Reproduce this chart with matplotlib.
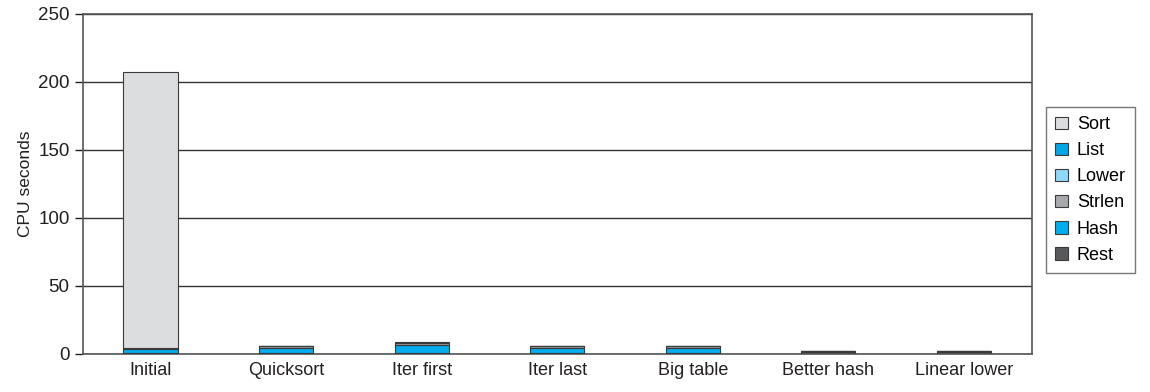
import numpy as np
import matplotlib
matplotlib.use("Agg")
import matplotlib.pyplot as plt

plt.rcParams['font.family'] = ['Liberation Sans', 'DejaVu Sans']

categories = ['Initial', 'Quicksort', 'Iter first', 'Iter last',
              'Big table', 'Better hash', 'Linear lower']

# stacked bottom -> top
rest = [0.6, 0.5, 0.5, 0.5, 0.5, 1.3, 1.2]
hash_ = [3.4, 3.7, 6.1, 3.7, 3.7, 0.0, 0.0]
strlen = [0.3, 1.4, 1.2, 1.4, 1.4, 0.9, 0.9]
lower = [0.1, 0.1, 0.1, 0.1, 0.1, 0.0, 0.0]
list_ = [0.1, 0.0, 0.0, 0.0, 0.0, 0.0, 0.0]
sort = [203.0, 0.4, 0.6, 0.4, 0.4, 0.0, 0.0]

series = [
    ('Rest', rest, '#58595b'),
    ('Hash', hash_, '#00aeef'),
    ('Strlen', strlen, '#a7a9ac'),
    ('Lower', lower, '#8ed8f8'),
    ('List', list_, '#00a6e6'),
    ('Sort', sort, '#dcddde'),
]

fig, ax = plt.subplots(figsize=(11.5, 3.92), dpi=100)
fig.subplots_adjust(left=0.072, right=0.897, top=0.965, bottom=0.097)

x = np.arange(len(categories))
bottom = np.zeros(len(categories))
handles = {}
for name, vals, color in series:
    vals = np.array(vals)
    h = ax.bar(x, vals, width=0.4, bottom=bottom, color=color,
               edgecolor='#3a3a3a', linewidth=0.8, zorder=3, label=name)
    handles[name] = h
    bottom += vals

ax.set_xlim(-0.5, len(categories) - 0.5)
ax.set_ylim(0, 250)
ax.set_yticks([0, 50, 100, 150, 200, 250])
ax.yaxis.grid(True, color='#333333', linewidth=1.0, zorder=0)
ax.set_xticks(x)
ax.set_xticklabels(categories)
ax.tick_params(axis='x', length=0, labelsize=13, pad=6, colors='#231f20')
ax.tick_params(axis='y', length=6, width=1.0, labelsize=13.5, colors='#231f20',
               direction='out')
ax.set_ylabel('CPU seconds', fontsize=12.5, color='#231f20')
for s in ax.spines.values():
    s.set_color('#555555')
    s.set_linewidth(1.2)

order = ['Sort', 'List', 'Lower', 'Strlen', 'Hash', 'Rest']
leg = ax.legend([handles[n] for n in order], order, loc='center left',
                bbox_to_anchor=(1.006, 0.482), fontsize=13, frameon=True,
                fancybox=False, edgecolor='#555555', handlelength=0.7,
                handleheight=0.7, handletextpad=0.5, labelspacing=0.5,
                borderpad=0.5)
leg.get_frame().set_linewidth(1.0)

fig.savefig('out.png', dpi=100)
